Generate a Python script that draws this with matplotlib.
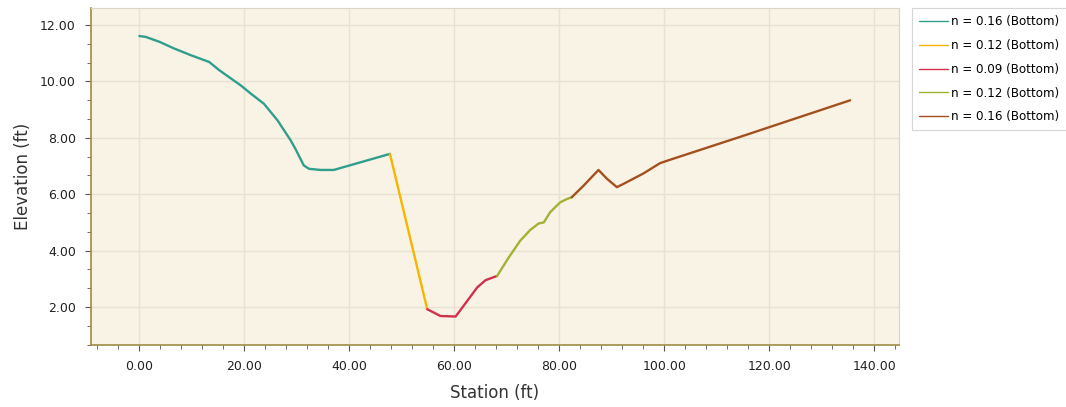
import matplotlib.pyplot as plt
from matplotlib.ticker import MultipleLocator, AutoMinorLocator, FormatStrFormatter

# station / elevation per roughness zone
sta1 = [0.1, 1.3, 4.0, 6.7, 9.9, 13.4, 15.3, 19.4, 21.3, 23.8, 26.4, 28.9, 29.8, 31.4, 32.4, 34.6, 37.1, 47.8]
elev1 = [11.61, 11.58, 11.40, 11.17, 10.93, 10.69, 10.40, 9.86, 9.57, 9.21, 8.62, 7.91, 7.61, 7.02, 6.90, 6.86, 6.86, 7.43]

sta2 = [47.8, 54.9]
elev2 = [7.43, 1.92]

sta3 = [54.9, 57.4, 60.3, 62.5, 64.4, 66.0, 68.2]
elev3 = [1.92, 1.68, 1.66, 2.21, 2.69, 2.95, 3.10]

sta4 = [68.2, 70.4, 72.6, 74.5, 76.1, 77.1, 78.3, 80.2, 81.5, 82.4]
elev4 = [3.10, 3.75, 4.35, 4.73, 4.96, 5.00, 5.36, 5.71, 5.83, 5.89]

sta5 = [82.4, 84.7, 87.5, 89.1, 91.0, 92.3, 96.1, 99.2, 101.1, 114.4, 135.4]
elev5 = [5.89, 6.31, 6.86, 6.55, 6.25, 6.37, 6.74, 7.10, 7.22, 8.03, 9.33]

labels = ["n = 0.16 (Bottom)", "n = 0.12 (Bottom)", "n = 0.09 (Bottom)",
          "n = 0.12 (Bottom)", "n = 0.16 (Bottom)"]
colors = ["#2f9f8c", "#f7b500", "#d2304c", "#9fb334", "#a4501e"]

fig = plt.figure(figsize=(10.66, 4.07), dpi=100)
ax = fig.add_axes([0.0854, 0.1523, 0.7579, 0.8277])
ax.set_facecolor("#f9f3e6")

segs = [(sta1, elev1), (sta2, elev2), (sta3, elev3), (sta4, elev4), (sta5, elev5)]
for (s, e), c, lab in zip(segs, colors, labels):
    ax.plot(s, e, color=c, lw=1.7, label=lab, solid_capstyle="round")

ax.set_xlim(-9.1, 144.7)
ax.set_ylim(0.65, 12.6)
ax.xaxis.set_major_locator(MultipleLocator(20))
ax.xaxis.set_minor_locator(AutoMinorLocator(5))
ax.yaxis.set_major_locator(MultipleLocator(2))
ax.yaxis.set_minor_locator(AutoMinorLocator(3))
ax.xaxis.set_major_formatter(FormatStrFormatter("%.2f"))
ax.yaxis.set_major_formatter(FormatStrFormatter("%.2f"))

ax.grid(True, which="major", color="#e9e1d1", lw=1.0)
ax.set_axisbelow(True)

for side in ["left", "bottom"]:
    ax.spines[side].set_color("#a08b45")
    ax.spines[side].set_linewidth(1.2)
for side in ["top", "right"]:
    ax.spines[side].set_color("#dcd6c8")

ax.tick_params(which="major", length=4, color="#555555", labelsize=9, pad=7,
               labelcolor="#222222")
ax.tick_params(which="minor", length=3, color="#555555")

ax.set_xlabel("Station (ft)", fontsize=12, color="#333333", labelpad=8)
ax.set_ylabel("Elevation (ft)", fontsize=12, color="#333333", labelpad=6)

leg = fig.legend(loc="upper left", bbox_to_anchor=(0.8555, 0.98), fontsize=8.6,
                 frameon=True, fancybox=False, handlelength=2.4, handletextpad=0.3,
                 labelspacing=0.9, borderpad=0.6, borderaxespad=0.0)
leg.get_frame().set_edgecolor("#cccccc")
leg.get_frame().set_linewidth(0.8)
for h in leg.get_lines():
    h.set_linewidth(1.0)

plt.savefig("out.png", dpi=100)
